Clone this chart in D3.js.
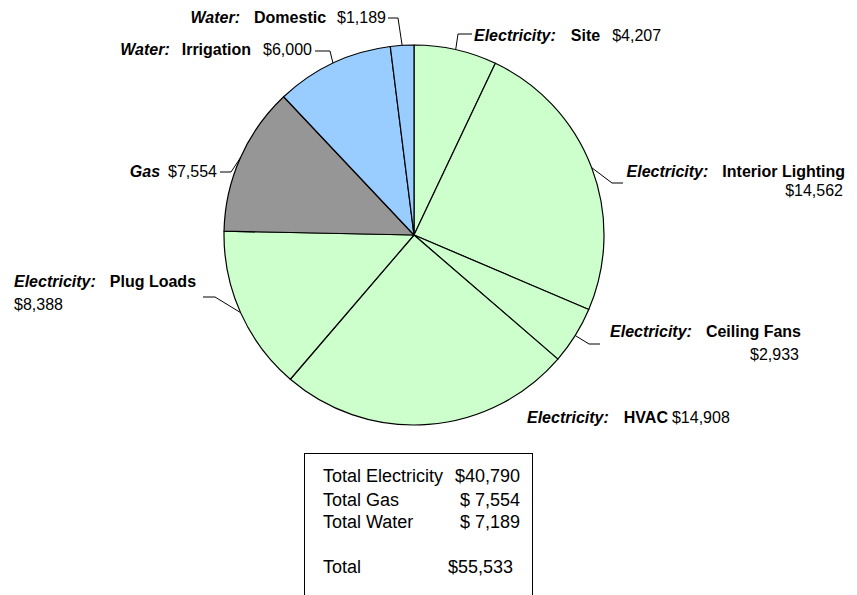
<!DOCTYPE html>
<html>
<head>
<meta charset="utf-8">
<script src="https://cdn.jsdelivr.net/npm/d3@7"></script>
<style>
  html, body { margin: 0; padding: 0; background: #fff; }
  svg { display: block; font-family: "Liberation Sans", Arial, sans-serif; }
</style>
</head>
<body>
<svg id="chart" width="857" height="595"></svg>
<script>
// ---- data ----
const groups     = ["Electricity:", "Electricity:", "Electricity:", "Electricity:", "Electricity:", "Gas", "Water:", "Water:"];
const categories = ["Site", "Interior Lighting", "Ceiling Fans", "HVAC", "Plug Loads", "", "Irrigation", "Domestic"];
const values     = [4207, 14562, 2933, 14908, 8388, 7554, 6000, 1189];
const groupColors = { "Electricity:": "#CCFFCC", "Gas": "#969696", "Water:": "#99CCFF" };

const totalLabels = ["Total Electricity", "Total Gas", "Total Water", "Total"];
const totalValues = ["$40,790", "$ 7,554", "$ 7,189", "$55,533"];

// ---- layout (positions only) ----
const cx = 414, cy = 235, R = 190;
const labelLayout = [
  { anchor: "start", x: 474, y: [41],       g1: 15, g2: 12, elbow: [458, 34],  end: [472, 34] },
  { anchor: "end",   x: 845, y: [177, 196], g1: 14,         elbow: [612, 183], end: [623, 183] },
  { anchor: "end",   x: 801, y: [337, 360], g1: 14,         elbow: [589, 344], end: [600, 344] },
  { anchor: "start", x: 527, y: [423],      g1: 15, g2: 4,  elbow: null,       end: null },
  { anchor: "start", x: 14,  y: [287, 310], g1: 14,         elbow: [215, 297], end: [203, 297] },
  { anchor: "end",   x: 217, y: [177],      g1: 0,  g2: 8,  elbow: [231, 172], end: [220, 172] },
  { anchor: "end",   x: 312, y: [55],       g1: 12, g2: 12, elbow: [330, 51],  end: [315, 51] },
  { anchor: "end",   x: 386, y: [23],       g1: 14, g2: 11, elbow: [398, 18],  end: [388, 18] }
];

const fmt = d3.format("$,");
const svg = d3.select("#chart");

const pie = d3.pie().sort(null).value(d => d)(values);
const arc = d3.arc().innerRadius(0).outerRadius(R);

const g = svg.append("g").attr("transform", `translate(${cx},${cy})`);
g.selectAll("path.slice")
  .data(pie)
  .join("path")
  .attr("class", "slice")
  .attr("d", arc)
  .attr("fill", (d, i) => groupColors[groups[i]])
  .attr("stroke", "#000")
  .attr("stroke-width", 1.2)
  .attr("stroke-linejoin", "round");

// leader lines
pie.forEach((d, i) => {
  const L = labelLayout[i];
  if (!L.elbow) return;
  const a = (d.startAngle + d.endAngle) / 2;
  const p0 = [cx + R * Math.sin(a), cy - R * Math.cos(a)];
  svg.append("polyline")
    .attr("points", [p0, L.elbow, L.end].map(p => p.join(",")).join(" "))
    .attr("fill", "none")
    .attr("stroke", "#000")
    .attr("stroke-width", 1);
});

// labels
pie.forEach((d, i) => {
  const L = labelLayout[i];
  const t = svg.append("text")
    .attr("x", L.x).attr("y", L.y[0])
    .attr("text-anchor", L.anchor)
    .attr("font-size", 16)
    .attr("fill", "#000");
  t.append("tspan").attr("font-weight", "bold").attr("font-style", "italic").text(groups[i]);
  if (categories[i]) {
    t.append("tspan").attr("dx", L.g1).attr("font-weight", "bold").text(categories[i]);
  }
  if (L.y.length === 1) {
    t.append("tspan").attr("dx", L.g2).text(fmt(values[i]));
  } else {
    svg.append("text")
      .attr("x", L.anchor === "end" ? L.x - 2 : L.x).attr("y", L.y[1])
      .attr("text-anchor", L.anchor)
      .attr("font-size", 16)
      .text(fmt(values[i]));
  }
});

// totals box
svg.append("rect")
  .attr("x", 304.5).attr("y", 453.5)
  .attr("width", 228).attr("height", 200)
  .attr("fill", "#fff").attr("stroke", "#000").attr("stroke-width", 1);

const rowY = [482, 506, 528, 573];
const valX = [520, 520, 520, 513];
totalLabels.forEach((lab, i) => {
  svg.append("text").attr("x", 323).attr("y", rowY[i])
    .attr("font-size", 18).text(lab);
  svg.append("text").attr("x", valX[i]).attr("y", rowY[i])
    .attr("text-anchor", "end").attr("font-size", 18)
    .attr("xml:space", "preserve").style("white-space", "pre")
    .text(totalValues[i]);
});
</script>
</body>
</html>
